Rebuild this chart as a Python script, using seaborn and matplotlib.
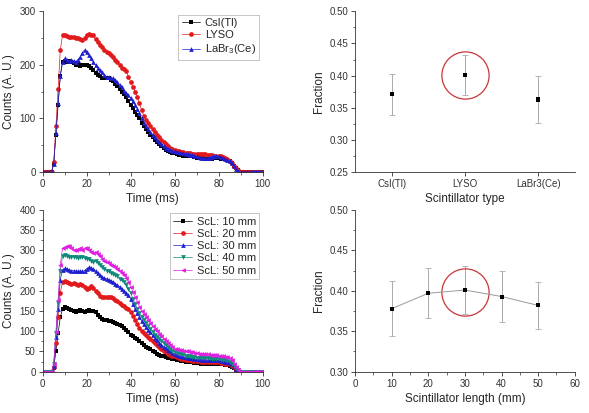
import numpy as np
import pandas as pd
import matplotlib
matplotlib.use("Agg")
import matplotlib.pyplot as plt
import seaborn as sns
from matplotlib.ticker import MultipleLocator

# time axis (ms), 1 ms steps
time_ms = np.arange(0, 101)

# --- top-left: scintillator type ---
csi = [0, 0, 0, 0, 0, 15, 70, 125, 180, 205,
       207, 205, 207, 205, 203, 200, 202, 198, 200, 200,
       200, 198, 195, 190, 185, 182, 180, 176, 175, 175,
       175, 172, 170, 165, 160, 155, 150, 145, 140, 133,
       125, 120, 113, 107, 100, 92, 85, 80, 75, 70,
       65, 60, 56, 52, 48, 45, 42, 40, 38, 36,
       35, 33, 32, 31, 30, 30, 30, 29, 29, 28,
       27, 27, 26, 26, 25, 25, 25, 25, 26, 26,
       26, 25, 25, 24, 22, 20, 17, 12, 7, 3,
       0, 0, 0, 0, 0, 0, 0, 0, 0, 0, 0]
lyso = [0, 0, 0, 0, 0, 18, 85, 155, 228, 255,
        255, 254, 253, 252, 252, 251, 250, 248, 247, 250,
        256, 257, 256, 255, 248, 242, 238, 233, 228, 225,
        222, 218, 215, 210, 205, 200, 195, 192, 188, 178,
        168, 158, 150, 140, 128, 115, 105, 98, 92, 86,
        80, 75, 70, 65, 60, 56, 52, 48, 45, 43,
        42, 40, 39, 38, 37, 36, 36, 35, 34, 34,
        34, 34, 33, 33, 33, 32, 31, 31, 30, 30,
        30, 29, 28, 26, 24, 21, 17, 12, 7, 3,
        0, 0, 0, 0, 0, 0, 0, 0, 0, 0, 0]
labr = [0, 0, 0, 0, 0, 15, 72, 128, 180, 205,
        212, 210, 208, 210, 208, 205, 210, 215, 222, 228,
        225, 218, 212, 205, 200, 195, 190, 186, 182, 178,
        178, 176, 175, 172, 168, 162, 158, 152, 148, 143,
        138, 132, 125, 118, 110, 100, 92, 86, 80, 75,
        70, 65, 60, 56, 52, 48, 45, 43, 41, 40,
        39, 38, 37, 36, 35, 34, 33, 32, 31, 30,
        29, 28, 27, 27, 26, 26, 27, 28, 29, 29,
        29, 28, 27, 25, 23, 20, 16, 11, 6, 2,
        0, 0, 0, 0, 0, 0, 0, 0, 0, 0, 0]

# --- bottom-left: scintillator length ---
scl10 = [0, 0, 0, 0, 0, 10, 50, 95, 135, 155,
         160, 158, 155, 152, 150, 148, 150, 152, 150, 148,
         150, 152, 150, 150, 148, 140, 135, 130, 128, 127,
         126, 125, 122, 120, 118, 115, 112, 108, 103, 98,
         92, 88, 84, 80, 75, 70, 66, 62, 58, 55,
         51, 48, 45, 42, 40, 38, 36, 35, 33, 32,
         31, 29, 28, 27, 26, 25, 25, 24, 23, 22,
         21, 21, 20, 20, 20, 20, 20, 20, 20, 20,
         20, 19, 18, 17, 16, 15, 12, 9, 5, 2,
         0, 0, 0, 0, 0, 0, 0, 0, 0, 0, 0]
scl20 = [0, 0, 0, 0, 0, 12, 70, 135, 195, 222,
         225, 222, 220, 218, 220, 218, 215, 218, 215, 210,
         205, 208, 212, 208, 200, 195, 188, 185, 186, 185,
         186, 185, 182, 178, 175, 170, 165, 162, 158, 155,
         148, 138, 128, 118, 108, 100, 95, 90, 85, 80,
         75, 70, 65, 60, 56, 52, 48, 45, 42, 40,
         38, 36, 34, 32, 31, 30, 29, 28, 27, 27,
         26, 26, 25, 25, 25, 25, 24, 24, 24, 24,
         23, 22, 21, 20, 19, 18, 15, 11, 6, 2,
         0, 0, 0, 0, 0, 0, 0, 0, 0, 0, 0]
scl30 = [0, 0, 0, 0, 0, 15, 85, 155, 228, 252,
         256, 254, 252, 250, 250, 249, 248, 249, 248, 250,
         255, 258, 257, 255, 250, 245, 240, 235, 232, 230,
         228, 225, 222, 218, 214, 210, 205, 200, 195, 190,
         180, 168, 155, 145, 135, 125, 118, 110, 103, 97,
         90, 84, 78, 72, 67, 62, 58, 54, 50, 47,
         45, 42, 40, 38, 37, 36, 35, 34, 33, 32,
         31, 31, 30, 30, 30, 29, 29, 29, 29, 28,
         28, 27, 26, 25, 24, 22, 18, 13, 7, 3,
         0, 0, 0, 0, 0, 0, 0, 0, 0, 0, 0]
scl40 = [0, 0, 0, 0, 0, 18, 95, 170, 250, 285,
         288, 286, 284, 283, 284, 283, 282, 283, 284, 282,
         280, 278, 275, 272, 273, 270, 265, 260, 255, 250,
         248, 245, 242, 240, 236, 230, 226, 222, 215, 205,
         195, 180, 168, 155, 145, 135, 127, 120, 112, 105,
         98, 92, 86, 80, 75, 70, 65, 60, 56, 52,
         49, 47, 45, 43, 42, 40, 39, 38, 37, 36,
         35, 35, 34, 34, 33, 33, 33, 32, 32, 32,
         31, 30, 29, 28, 27, 25, 20, 14, 8, 3,
         0, 0, 0, 0, 0, 0, 0, 0, 0, 0, 0]
scl50 = [0, 0, 0, 0, 0, 20, 98, 178, 265, 305,
         308, 310, 312, 305, 302, 300, 303, 305, 302, 305,
         306, 300, 296, 294, 295, 290, 285, 280, 275, 272,
         268, 265, 262, 258, 255, 250, 245, 240, 232, 222,
         210, 198, 185, 172, 160, 150, 142, 135, 128, 120,
         113, 106, 100, 94, 88, 82, 76, 70, 65, 60,
         57, 55, 54, 53, 52, 51, 50, 49, 48, 47,
         46, 45, 44, 44, 43, 43, 42, 42, 41, 41,
         40, 39, 38, 37, 36, 34, 28, 20, 12, 5,
         0, 0, 0, 0, 0, 0, 0, 0, 0, 0, 0]

# --- right panels: fraction ---
types = ["CsI(Tl)", "LYSO", "LaBr3(Ce)"]
type_frac = [0.371, 0.401, 0.363]
type_err = [0.032, 0.031, 0.037]

lengths = [10, 20, 30, 40, 50]
len_frac = [0.378, 0.397, 0.401, 0.393, 0.382]
len_err = [0.034, 0.031, 0.030, 0.032, 0.029]

sns.set_style("ticks")
plt.rcParams["font.family"] = ["Liberation Sans", "DejaVu Sans"]
plt.rcParams["mathtext.fontset"] = "custom"
plt.rcParams["mathtext.rm"] = "Liberation Sans"

fig = plt.figure(figsize=(5.89, 4.13), dpi=100)
ax1 = fig.add_axes([0.0725, 0.5835, 0.3735, 0.389])
ax2 = fig.add_axes([0.603, 0.5835, 0.3727, 0.389])
ax3 = fig.add_axes([0.0725, 0.100, 0.3735, 0.3915])
ax4 = fig.add_axes([0.603, 0.100, 0.3727, 0.3915])

tick_fs = 7
label_fs = 8.5


def style_axes(ax):
    sns.despine(ax=ax)
    for sp in ("left", "bottom"):
        ax.spines[sp].set_linewidth(0.6)
        ax.spines[sp].set_color("#333333")
    ax.tick_params(which="major", length=3, width=0.6, labelsize=tick_fs,
                   colors="#333333", pad=2)
    ax.tick_params(which="minor", length=1.8, width=0.5, colors="#333333")


def time_panel(ax, series, labels, colors, markers, ylim, ymaj, ymin):
    for y, lab, c, m in zip(series, labels, colors, markers):
        df = pd.DataFrame({"t": time_ms, "c": y})
        sns.lineplot(data=df, x="t", y="c", ax=ax, color=c, label=lab,
                     marker=m, markersize=3.4, markeredgewidth=0,
                     linewidth=0.5)
    ax.set_xlim(0, 100)
    ax.set_ylim(*ylim)
    ax.xaxis.set_major_locator(MultipleLocator(20))
    ax.xaxis.set_minor_locator(MultipleLocator(10))
    ax.yaxis.set_major_locator(MultipleLocator(ymaj))
    ax.yaxis.set_minor_locator(MultipleLocator(ymin))
    ax.set_xlabel("Time (ms)", fontsize=label_fs, labelpad=3)
    ax.set_ylabel("Counts (A. U.)", fontsize=label_fs, labelpad=3)
    style_axes(ax)
    leg = ax.legend(loc="upper right", fontsize=8, frameon=True,
                    fancybox=False, edgecolor="#aaaaaa", handlelength=1.7,
                    handletextpad=0.4, borderpad=0.3, labelspacing=0.2,
                    borderaxespad=0.3)
    leg.get_frame().set_linewidth(0.6)


time_panel(ax1, [csi, lyso, labr],
           ["CsI(Tl)", "LYSO", "LaBr$_3$(Ce)"],
           ["black", "#e31a1c", "#1f1fd0"], ["s", "o", "^"],
           (0, 300), 100, 50)
time_panel(ax3, [scl10, scl20, scl30, scl40, scl50],
           ["ScL: 10 mm", "ScL: 20 mm", "ScL: 30 mm", "ScL: 40 mm", "ScL: 50 mm"],
           ["black", "#e31a1c", "#1f1fd0", "#0f8a7a", "#e020e0"],
           ["s", "o", "^", "v", "<"],
           (0, 400), 50, 25)

circle_color = "#c8363a"

# scintillator type
xpos = np.arange(1, len(types) + 1)
ax2.errorbar(xpos, type_frac, yerr=type_err, fmt="none", ecolor="#aaaaaa",
             elinewidth=0.7, capsize=2, capthick=0.6)
sns.scatterplot(x=xpos, y=type_frac, ax=ax2, marker="s", s=10,
                color="black", edgecolor="none", zorder=3)
best = int(np.argmax(type_frac))
ax2.plot(xpos[best], type_frac[best], "o", ms=34, mfc="none",
         mec=circle_color, mew=0.9)
ax2.set_xlim(0.5, 3.5)
ax2.set_ylim(0.25, 0.50)
ax2.set_xticks(xpos)
ax2.set_xticklabels(types)
ax2.yaxis.set_major_locator(MultipleLocator(0.05))
ax2.yaxis.set_minor_locator(MultipleLocator(0.025))
ax2.yaxis.set_major_formatter(matplotlib.ticker.FormatStrFormatter("%.2f"))
ax2.set_xlabel("Scintillator type", fontsize=label_fs, labelpad=3)
ax2.set_ylabel("Fraction", fontsize=label_fs, labelpad=3)
style_axes(ax2)

# scintillator length
ax4.errorbar(lengths, len_frac, yerr=len_err, fmt="none", ecolor="#aaaaaa",
             elinewidth=0.7, capsize=2, capthick=0.6)
sns.lineplot(x=lengths, y=len_frac, ax=ax4, color="#999999", linewidth=0.7,
             marker="s", markersize=3.5, markerfacecolor="black",
             markeredgewidth=0, zorder=3)
ibest = int(np.argmax(len_frac))
ax4.plot(lengths[ibest], len_frac[ibest] - 0.003, "o", ms=34, mfc="none",
         mec=circle_color, mew=0.9)
ax4.set_xlim(0, 60)
ax4.set_ylim(0.30, 0.50)
ax4.xaxis.set_major_locator(MultipleLocator(10))
ax4.xaxis.set_minor_locator(MultipleLocator(5))
ax4.yaxis.set_major_locator(MultipleLocator(0.05))
ax4.yaxis.set_minor_locator(MultipleLocator(0.025))
ax4.yaxis.set_major_formatter(matplotlib.ticker.FormatStrFormatter("%.2f"))
ax4.set_xlabel("Scintillator length (mm)", fontsize=label_fs, labelpad=3)
ax4.set_ylabel("Fraction", fontsize=label_fs, labelpad=3)
style_axes(ax4)

fig.savefig("out.png", dpi=100)
